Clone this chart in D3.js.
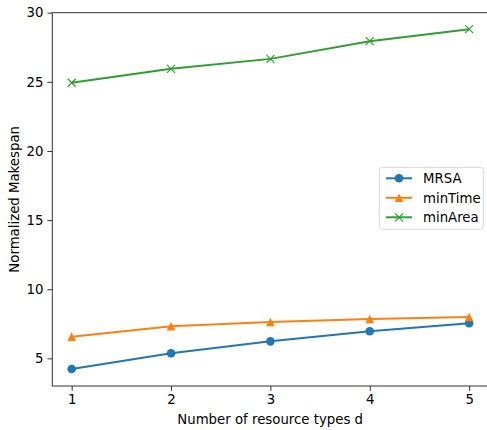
<!DOCTYPE html>
<html>
<head>
<meta charset="utf-8">
<script src="https://cdn.jsdelivr.net/npm/d3@7"></script>
<style>
  body { margin: 0; background: #fff; }
  svg { display: block; font-family: "DejaVu Sans", sans-serif; }
</style>
</head>
<body>
<svg id="chart"></svg>
<script>
// data
const dValues = [1, 2, 3, 4, 5];
const mrsa = [4.23, 5.37, 6.23, 6.96, 7.54];
const minTime = [6.57, 7.32, 7.63, 7.85, 7.99];
const minArea = [24.93, 25.94, 26.66, 27.94, 28.81];
const yTicks = [5, 10, 15, 20, 25, 30];
const seriesNames = ["MRSA", "minTime", "minArea"];
const seriesColors = ["#1f77b4", "#ff7f0e", "#2ca02c"];

const w = 487;
const h = 430;
const margin = { left: 52.3, top: 12.7, right: 489, bottom: 386 };

const svg = d3.select("#chart").attr("width", w).attr("height", h);

// scales
const xScale = d3.scaleLinear([0.805, 5.2], [margin.left, margin.right]);
const yScale = d3.scaleLinear([3, 30], [margin.bottom, margin.top]);

//axes
const xAxis = d3.axisBottom(xScale).tickValues(dValues).tickFormat(d3.format("d")).tickSize(4.9).tickPadding(4);
const yAxis = d3.axisLeft(yScale).tickValues(yTicks).tickSize(4.9).tickPadding(4);

const gx = svg.append("g")
  .attr("transform", "translate(0," + margin.bottom + ")")
  .call(xAxis);
const gy = svg.append("g")
  .attr("transform", "translate(" + margin.left + ",0)")
  .call(yAxis);
[gx, gy].forEach(g => {
  g.select(".domain").remove();
  g.selectAll("line").attr("stroke", "#333").attr("stroke-width", 1);
  g.selectAll("text").attr("fill", "#000").style("font-size", "13.3px").style("font-family", "DejaVu Sans");
});

// frame (spines)
svg.append("rect")
  .attr("x", margin.left)
  .attr("y", margin.top)
  .attr("width", margin.right - margin.left)
  .attr("height", margin.bottom - margin.top)
  .attr("fill", "none")
  .attr("stroke", "#333")
  .attr("stroke-width", 1);

// axis labels
svg.append("text")
  .attr("x", (margin.left + margin.right) / 2 - 0.5)
  .attr("y", 424)
  .attr("text-anchor", "middle")
  .style("font-size", "13.3px")
  .text("Number of resource types d");
svg.append("text")
  .attr("transform", "translate(19," + (margin.top + margin.bottom) / 2 + ") rotate(-90)")
  .attr("text-anchor", "middle")
  .style("font-size", "13.3px")
  .text("Normalized Makespan");

const allSeries = [mrsa, minTime, minArea];
const line = d3.line()
  .x((d, i) => xScale(dValues[i]))
  .y(d => yScale(d));

function drawMarker(g, k, x, y, color) {
  if (k === 0) {
    g.append("circle").attr("cx", x).attr("cy", y).attr("r", 4.3).attr("fill", color);
  } else if (k === 1) {
    const s = 4.3;
    g.append("path")
      .attr("d", `M${x},${y - s}L${x - s},${y + s}L${x + s},${y + s}Z`)
      .attr("fill", color);
  } else {
    const s = 4;
    g.append("path")
      .attr("d", `M${x - s},${y - s}L${x + s},${y + s}M${x - s},${y + s}L${x + s},${y - s}`)
      .attr("stroke", color)
      .attr("stroke-width", 1.2)
      .attr("fill", "none");
  }
}

allSeries.forEach((vals, k) => {
  const g = svg.append("g");
  g.append("path")
    .datum(vals)
    .attr("d", line)
    .attr("fill", "none")
    .attr("stroke", seriesColors[k])
    .attr("stroke-width", 2);
  vals.forEach((v, i) => drawMarker(g, k, xScale(dValues[i]), yScale(v), seriesColors[k]));
});

// legend
const leg = svg.append("g");
leg.append("rect")
  .attr("x", 379.3)
  .attr("y", 167.3)
  .attr("width", 104)
  .attr("height", 62)
  .attr("rx", 3)
  .attr("fill", "#fff")
  .attr("fill-opacity", 0.8)
  .attr("stroke", "#d6d6d6")
  .attr("stroke-width", 1);
seriesNames.forEach((name, k) => {
  const y = 178.3 + k * 19.5;
  leg.append("line")
    .attr("x1", 386).attr("x2", 412)
    .attr("y1", y).attr("y2", y)
    .attr("stroke", seriesColors[k])
    .attr("stroke-width", 2);
  drawMarker(leg, k, 399, y, seriesColors[k]);
  leg.append("text")
    .attr("x", 423)
    .attr("y", y + 4.8)
    .style("font-size", "13.3px")
    .text(name);
});
</script>
</body>
</html>
